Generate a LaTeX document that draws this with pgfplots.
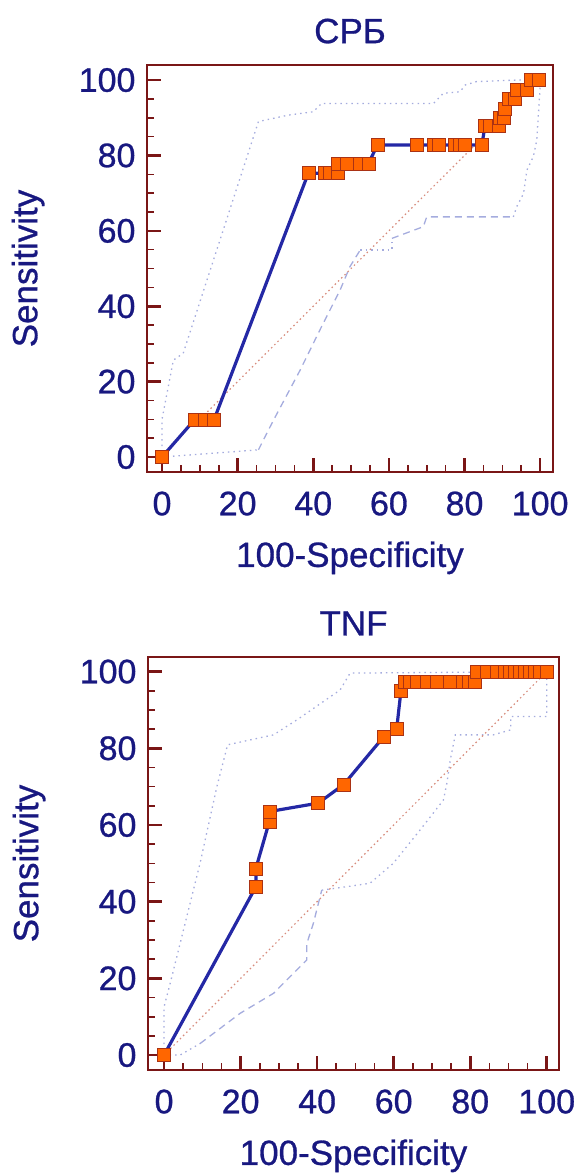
\documentclass[border=0pt]{standalone}
\usepackage{fontspec}
\setmainfont{Liberation Sans}[FakeBold=0.8]
\usepackage{pgfplots}
\pgfplotsset{compat=1.18}

\definecolor{frame}{RGB}{122,22,22}
\definecolor{navytext}{RGB}{24,24,128}
\definecolor{rocblue}{RGB}{36,40,165}
\definecolor{markfill}{RGB}{255,102,0}
\definecolor{markedge}{RGB}{170,50,20}
\definecolor{band}{RGB}{165,172,222}
\definecolor{diag}{RGB}{215,140,125}

\pgfplotsset{
  rocaxis/.style={
    scale only axis, anchor=north west,
    xtick={0,20,...,100}, ytick={0,20,...,100},
    minor tick num=3,
    tick align=inside, xtick pos=bottom, ytick pos=left,
    major tick length=14pt, minor tick length=7pt,
    major tick style={line width=2.6pt, color=frame},
    minor tick style={line width=1.6pt, color=frame},
    axis line style={line width=2.6pt, color=frame},
    ticklabel style={font=\fontsize{34}{34}\selectfont, text=navytext},
    /pgf/number format/assume math mode=true,
    xticklabel style={yshift=-16pt},
    yticklabel style={xshift=-8pt},
    every axis title/.style={at={(0.5,1)}, anchor=south, yshift=18pt,
      font=\fontsize{35}{35}\selectfont, text=navytext},
    every axis x label/.style={at={(axis description cs:0.5,0)}, anchor=north, yshift=-66pt,
      font=\fontsize{35}{35}\selectfont, text=navytext},
    every axis y label/.style={at={(axis description cs:0,0.5)}, xshift=-99pt, rotate=90, anchor=south,
      font=\fontsize{35}{35}\selectfont, text=navytext},
    xlabel={100-Specificity}, ylabel={Sensitivity},
    clip=false,
  },
  roc/.style={color=rocblue, line width=3.2pt, mark=square*, mark size=6.5pt,
    mark options={fill=markfill, draw=markedge, line width=0.6pt, solid}},
  ciup/.style={color=band, line width=1.3pt, dash pattern=on 1.5pt off 4pt},
  cilo/.style={color=band, line width=1.3pt, dash pattern=on 7pt off 5pt},
  diagline/.style={color=diag, line width=1.2pt, dash pattern=on 1.5pt off 3pt},
}

\begin{document}
\begin{tikzpicture}

% ---- CRP ----
\begin{axis}[rocaxis,
    at={(147pt,-65pt)}, width=406pt, height=407pt,
    xmin=-3.97, xmax=103.4, ymin=-3.98, ymax=104,
    title={СРБ}]
\addplot[ciup] coordinates {(0,0)(0,10)(3,25.7)(5.6,27.5)(25.5,89)(33.4,90.7)(40,91.6)(42.2,93.8)(71.8,93.8)(74.4,96.5)(78.8,96.9)(80.2,98.7)(83.2,99.6)(93.8,100)(100,100)};
\addplot[ciup] coordinates {(0,0)(25.5,1.9)};
\addplot[cilo] coordinates {(25.5,1.9)(26.8,4.5)(29.5,9.8)(36.5,23)(42.2,34.6)(47.1,44.3)(49.7,50.5)(52.4,54.9)};
\addplot[ciup] coordinates {(52.4,54.9)(60.8,54.9)(60.8,58)};
\addplot[cilo] coordinates {(60.8,58)(69.1,61.1)(70,63.7)(92.9,63.7)};
\addplot[ciup] coordinates {(92.9,63.7)(93.8,66.4)(95.6,69.9)(96.5,76.1)(98.2,79.7)(99.1,84)(100,98.2)(100,100)};
\addplot[diagline] coordinates {(12,12)(83,83)};
\addplot[roc] coordinates {
  (0,0)(8.7,10)(11.4,10)(13.8,10)(38.7,75.3)(43.1,75.3)(44.4,75.3)(46.6,75.3)
  (46.6,77.9)(48.9,77.9)(52.4,77.9)(54.6,77.9)(57.0,82.8)(67.4,82.8)(71.8,82.8)
  (73.1,82.8)(77.5,82.8)(78.8,82.8)(80.2,82.8)(84.6,82.8)(85.4,87.8)(86.8,87.8)
  (89.0,87.8)(89.4,90.1)(90.3,90.1)(90.7,92.5)(91.6,94.9)(93.4,94.9)(93.8,97.3)
  (96.5,97.3)(97.4,100)(99.6,100)};
\end{axis}

% ---- TNF ----
\begin{axis}[rocaxis,
    at={(148pt,-657pt)}, width=411pt, height=413pt,
    xmin=-4.2, xmax=103.2, ymin=-3.9, ymax=103.8,
    title={TNF}]
\addplot[ciup] coordinates {(0,0)(0,12.6)(1.6,18.7)(9.4,50)(13.8,70)(16.6,80.9)(28.6,83.5)(34.7,87.4)(46,95.2)(48.6,99.6)(100,100)};
\addplot[ciup] coordinates {(0,0)(4.2,0)(9.4,3)};
\addplot[cilo] coordinates {(9.4,3)(19.9,10.9)(28.6,16.1)(34.7,22.2)(37.3,24.8)(37.3,29.1)(39,34.3)(41.2,43)};
\addplot[ciup] coordinates {(41.2,43)(47.7,43.9)(53.8,44.8)(59.9,50)(66.9,58.7)(73,66.5)(73.9,70.9)(74.8,77)(76.1,83.5)(86,83.5)(90.6,84.8)(90.6,88.3)(100,88.3)(100,100)};
\addplot[diagline] coordinates {(0,0)(100,100)};
\addplot[roc] coordinates {
  (0,0)(24.0,43.9)(24.0,48.7)(27.5,60.9)(27.5,63.5)(40.3,65.7)(47.0,70.6)
  (57.3,82.9)(60.8,85.2)(61.9,95.0)(63.0,97.4)(64.3,97.4)(66.0,97.4)(68.6,97.4)
  (71.3,97.4)(74.6,97.4)(78.0,97.4)(79.5,97.4)(81.3,97.4)(81.7,100)(84.3,100)
  (86.9,100)(89.1,100)(90.4,100)(91.7,100)(93.0,100)(94.3,100)(95.6,100)
  (97.0,100)(98.3,100)(100,100)};
\end{axis}

\pgfresetboundingbox
\useasboundingbox (0,0) rectangle (577pt,-1174pt);
\end{tikzpicture}
\end{document}
